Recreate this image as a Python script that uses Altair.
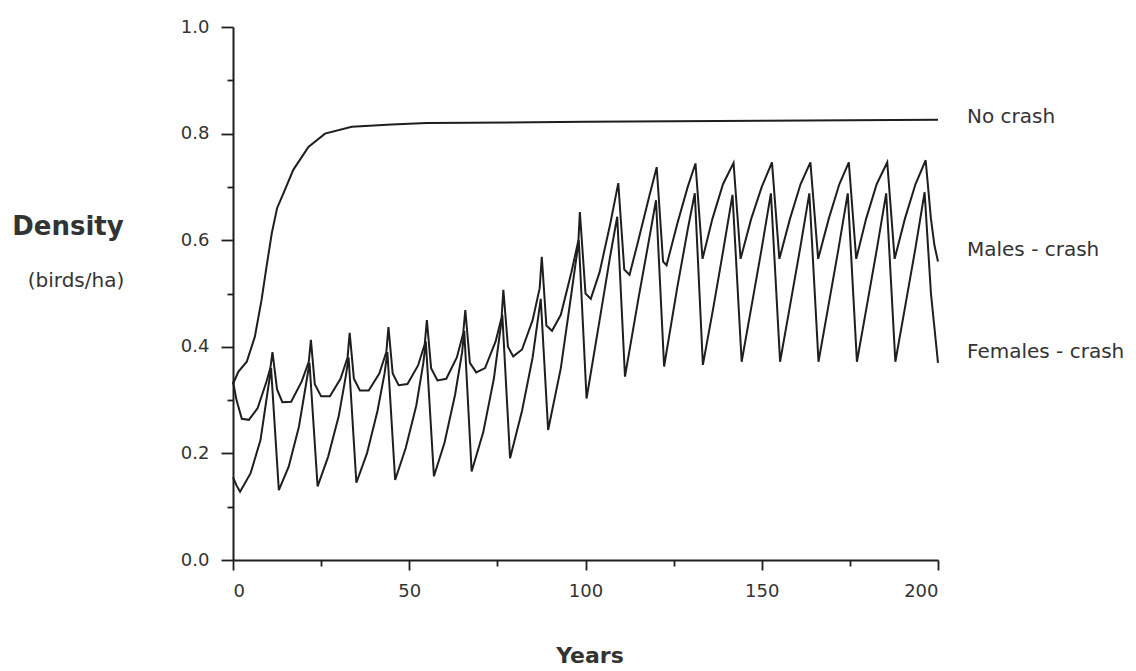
import altair as alt
import pandas as pd

# ---- data ----
years_nocrash = [0, 1.5, 3.9, 6.2, 8.1, 9.5, 11, 12.5, 14.3, 17.1, 21.4, 26.1, 33.7, 45, 55, 100, 150, 200]
dens_nocrash = [0.33, 0.353, 0.372, 0.419, 0.488, 0.55, 0.613, 0.66, 0.688, 0.732, 0.775, 0.80, 0.813, 0.817, 0.82, 0.822, 0.824, 0.826]

years_males = [0, 1, 2.5, 4.5, 7, 9.5, 10.6, 11.2,
               12.5, 14, 16.5, 19.5, 21.5, 22.1,
               23.2, 25, 27.5, 30.5, 32.5, 33.1,
               34.3, 36, 38.5, 41.5, 43.5, 44.1,
               45.3, 47, 49.5, 52.5, 54.4, 55,
               56.2, 58, 60.5, 63.5, 65.3, 65.9,
               67.2, 69, 71.5, 74.5, 76.2, 76.7,
               78, 79.5, 82, 85, 87, 87.6,
               88.9, 90.5, 93, 96, 98, 98.4,
               100, 101.5, 104, 107, 109.3,
               111, 112.5, 115, 118, 120.2,
               122, 123, 126, 129, 131.2,
               133.2, 136, 139, 142,
               144, 147, 150, 152.9,
               155, 158, 161, 163.8,
               166, 169, 172, 174.7,
               176.8, 179.6, 182.6, 185.6,
               187.7, 190.6, 193.6, 196.5,
               198, 199, 200]
dens_males = [0.335, 0.30, 0.265, 0.263, 0.285, 0.335, 0.36, 0.39,
              0.32, 0.296, 0.297, 0.335, 0.372, 0.413,
              0.33, 0.307, 0.307, 0.34, 0.38, 0.426,
              0.34, 0.318, 0.318, 0.35, 0.39, 0.437,
              0.35, 0.328, 0.33, 0.365, 0.405, 0.45,
              0.36, 0.337, 0.34, 0.38, 0.425, 0.469,
              0.37, 0.352, 0.36, 0.41, 0.455, 0.507,
              0.40, 0.382, 0.395, 0.45, 0.51, 0.569,
              0.44, 0.43, 0.46, 0.54, 0.60, 0.653,
              0.50, 0.49, 0.54, 0.63, 0.707,
              0.545, 0.535, 0.60, 0.68, 0.737,
              0.56, 0.553, 0.63, 0.70, 0.744,
              0.565, 0.64, 0.705, 0.745,
              0.565, 0.64, 0.70, 0.746,
              0.565, 0.64, 0.705, 0.746,
              0.565, 0.64, 0.705, 0.746,
              0.565, 0.64, 0.705, 0.746,
              0.565, 0.64, 0.705, 0.75,
              0.64, 0.59, 0.56]

years_females = [0, 1, 2, 5, 7.8, 9.2, 10.8,
                 13, 15.8, 18.7, 20.6, 21.7,
                 24, 27, 30, 32, 32.8,
                 35, 38, 41, 43, 43.8,
                 46, 49, 52, 54, 54.7,
                 57, 60, 63, 65, 65.6,
                 67.7, 71, 74, 76.4,
                 78.6, 82, 85, 87.3,
                 89.4, 93, 96, 98.1,
                 100.3, 104, 107, 109,
                 111.2, 115, 118, 120,
                 122.3, 126, 129, 131,
                 133.3, 136.3, 139.1, 141.7,
                 144.3, 147.2, 150, 152.6,
                 155.2, 158.1, 160.9, 163.5,
                 166.1, 169, 171.8, 174.4,
                 177, 179.9, 182.7, 185.3,
                 187.9, 190.8, 193.6, 196.2,
                 198, 200]
dens_females = [0.155, 0.14, 0.128, 0.163, 0.225, 0.288, 0.36,
                0.131, 0.175, 0.25, 0.325, 0.37,
                0.138, 0.194, 0.27, 0.345, 0.38,
                0.145, 0.20, 0.28, 0.35, 0.39,
                0.15, 0.21, 0.29, 0.37, 0.41,
                0.157, 0.22, 0.31, 0.39, 0.43,
                0.166, 0.24, 0.34, 0.46,
                0.191, 0.28, 0.38, 0.49,
                0.244, 0.36, 0.50, 0.60,
                0.303, 0.45, 0.57, 0.644,
                0.344, 0.49, 0.60, 0.675,
                0.363, 0.51, 0.62, 0.688,
                0.366, 0.475, 0.582, 0.685,
                0.372, 0.48, 0.585, 0.688,
                0.372, 0.48, 0.585, 0.688,
                0.372, 0.48, 0.585, 0.688,
                0.372, 0.48, 0.585, 0.688,
                0.372, 0.48, 0.585, 0.69,
                0.50, 0.37]

series_labels = ["No crash", "Males - crash", "Females - crash"]
label_y = [0.831, 0.582, 0.39]

x_ticks = [0, 25, 50, 75, 100, 125, 150, 175, 200]
y_ticks = [0, 0.1, 0.2, 0.3, 0.4, 0.5, 0.6, 0.7, 0.8, 0.9, 1.0]

# ---- tables ----
rows = []
for name, ys, vs in [("No crash", years_nocrash, dens_nocrash),
                     ("Males - crash", years_males, dens_males),
                     ("Females - crash", years_females, dens_females)]:
    for i, (yy, vv) in enumerate(zip(ys, vs)):
        rows.append({"series": name, "year": yy, "density": vv, "order": i})
df = pd.DataFrame(rows)
lab_df = pd.DataFrame({"label": series_labels, "density": label_y, "year": [200] * 3})

FONT = "DejaVu Sans"
INK = "#1e1e1e"
TXT = "#333333"

x_enc = alt.X("year:Q", scale=alt.Scale(domain=[0, 200], nice=False, zero=False),
              axis=alt.Axis(values=x_ticks, title=None, grid=False,
                            labelExpr="datum.value % 50 === 0 ? datum.label : ''",
                            tickSize={"condition": {"test": "datum.value % 50 === 0", "value": 10}, "value": 6},
                            labelPadding=12, labelFontSize=18, labelFont=FONT, labelColor=TXT,
                            domainColor=INK, domainWidth=2, tickColor=INK, tickWidth=1.8))
y_enc = alt.Y("density:Q", scale=alt.Scale(domain=[0, 1], nice=False),
              axis=alt.Axis(values=y_ticks, title=None, grid=False,
                            labelExpr="round(datum.value * 10) % 2 === 0 ? format(datum.value, '.1f') : ''",
                            tickSize={"condition": {"test": "round(datum.value * 10) % 2 === 0", "value": 12}, "value": 6},
                            labelPadding=12, labelFontSize=18, labelFont=FONT, labelColor=TXT,
                            domainColor=INK, domainWidth=2, tickColor=INK, tickWidth=1.8))

lines = alt.Chart(df).mark_line(color=INK, strokeWidth=2).encode(
    x=x_enc, y=y_enc, detail="series:N", order="order:Q")

labels = alt.Chart(lab_df).mark_text(align="left", baseline="middle", dx=29, font=FONT,
                                     fontSize=20, color=TXT).encode(
    x=alt.X("year:Q"), y=alt.Y("density:Q"), text="label:N")

density_t = alt.Chart(pd.DataFrame({"t": ["Density"]})).mark_text(
    font=FONT, fontSize=26, fontWeight="bold", color=TXT, align="center", baseline="middle").encode(
    x=alt.value(-165), y=alt.value(200), text="t:N")
unit_t = alt.Chart(pd.DataFrame({"t": ["(birds/ha)"]})).mark_text(
    font=FONT, fontSize=20, color=TXT, align="center", baseline="middle").encode(
    x=alt.value(-157), y=alt.value(254), text="t:N")
years_t = alt.Chart(pd.DataFrame({"t": ["Years"]})).mark_text(
    font=FONT, fontSize=22, fontWeight="bold", color=TXT, align="center", baseline="middle").encode(
    x=alt.value(357), y=alt.value(629), text="t:N")

chart = alt.layer(lines, labels, density_t, unit_t, years_t).properties(
    width=705, height=533,
    background="white",
    autosize=alt.AutoSizeParams(type="none"),
    padding={"left": 225, "top": 19, "right": 190, "bottom": 110},
).configure_view(stroke="transparent", strokeWidth=0)

chart.save("out.html", embed_options={"renderer": "svg", "actions": False})
